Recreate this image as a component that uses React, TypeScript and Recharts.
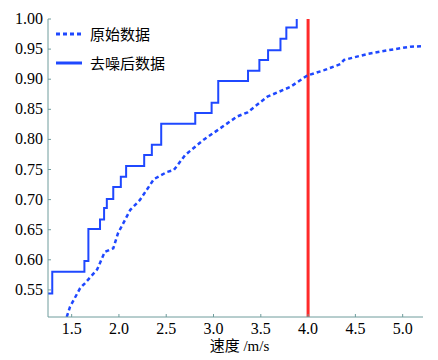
import { LineChart, Line, XAxis, YAxis, ReferenceLine } from 'recharts'

// 原始数据 (raw)
const rawSpeed = [1.448, 1.483, 1.59, 1.64, 1.77, 1.85, 1.94, 1.99, 2.12, 2.22, 2.37, 2.51, 2.58, 2.7, 2.83, 2.9, 3.04, 3.25, 3.36, 3.57, 3.81, 3.99, 4.17, 4.34, 4.38, 4.63, 4.84, 5.08, 5.22]
const rawProb = [0.505, 0.522, 0.553, 0.561, 0.584, 0.613, 0.619, 0.644, 0.683, 0.699, 0.734, 0.746, 0.749, 0.774, 0.791, 0.8, 0.815, 0.838, 0.845, 0.871, 0.887, 0.906, 0.915, 0.925, 0.932, 0.942, 0.948, 0.954, 0.955]

// 去噪后数据 (denoised), step curve
const cleanSpeed = [1.25, 1.295, 1.635, 1.677, 1.8, 1.843, 1.872, 1.94, 2.02, 2.076, 2.267, 2.348, 2.447, 2.807, 2.98, 3.05, 3.365, 3.485, 3.577, 3.708, 3.77, 3.88]
const cleanProb = [0.544, 0.58, 0.598, 0.651, 0.667, 0.686, 0.701, 0.721, 0.738, 0.756, 0.774, 0.791, 0.826, 0.844, 0.861, 0.897, 0.914, 0.932, 0.948, 0.967, 0.986, 1.0]

const xTicks = [1.5, 2.0, 2.5, 3.0, 3.5, 4.0, 4.5, 5.0]
const yTicks = [0.55, 0.6, 0.65, 0.7, 0.75, 0.8, 0.85, 0.9, 0.95, 1.0]
const threshold = 4.0

const rawData = rawSpeed.map((x, i) => ({ x, y: rawProb[i] }))
const cleanData = cleanSpeed.map((x, i) => ({ x, y: cleanProb[i] }))

const BLUE = '#1f48ff'
const AXIS = '#6f9c9c'
const SERIF = 'Liberation Serif, DejaVu Serif, serif'
const CJK = 'Liberation Serif, Noto Sans CJK SC, serif'

function XTick({ x, y, payload }: any) {
  return (
    <text x={x} y={y} dy={11} textAnchor="middle" style={{ fontFamily: SERIF, fontSize: 16, fill: '#000' }}>
      {payload.value.toFixed(1)}
    </text>
  )
}

function YTick({ x, y, payload }: any) {
  return (
    <text x={x} y={y} dy={5} textAnchor="end" style={{ fontFamily: SERIF, fontSize: 16, fill: '#000' }}>
      {payload.value.toFixed(2)}
    </text>
  )
}

function LegendBox() {
  const items = [
    { label: '原始数据', dash: '4 3' },
    { label: '去噪后数据', dash: undefined },
  ]
  return (
    <div style={{ position: 'absolute', left: 56, top: 19, fontFamily: CJK, fontSize: 15, color: '#000' }}>
      {items.map((it) => (
        <div key={it.label} style={{ display: 'flex', alignItems: 'center', height: 29 }}>
          <svg width={30} height={10} style={{ marginRight: 4 }}>
            <line x1={0} y1={5} x2={26} y2={5} stroke={BLUE} strokeWidth={3} strokeDasharray={it.dash} />
          </svg>
          <span>{it.label}</span>
        </div>
      ))}
    </div>
  )
}

export default function App() {
  return (
    <div style={{ position: 'absolute', left: 0, top: 0, width: 438, height: 360, background: '#fff' }}>
      <LineChart width={438} height={360} data={rawData} margin={{ top: 19, right: 15, bottom: 0, left: 0 }}>
        <XAxis
          type="number"
          dataKey="x"
          domain={[1.25, 5.215]}
          ticks={xTicks}
          allowDataOverflow
          height={43}
          stroke={AXIS}
          tickSize={-3}
          tickMargin={9}
          tick={<XTick />}
          label={{ value: '速度 /m/s', position: 'insideBottom', offset: 9, fill: '#000', fontSize: 15, style: { fontFamily: CJK }, dx: 4 }}
        />
        <YAxis
          type="number"
          domain={[0.505, 1.0]}
          ticks={yTicks}
          allowDataOverflow
          width={48}
          stroke={AXIS}
          tickSize={-3}
          tickMargin={8}
          tick={<YTick />}
        />
        <ReferenceLine x={threshold} stroke="#ff2a2a" strokeWidth={3} ifOverflow="hidden" />
        <Line
          data={rawData}
          dataKey="y"
          type="linear"
          stroke={BLUE}
          strokeWidth={2.5}
          strokeDasharray="4 3"
          dot={false}
          isAnimationActive={false}
        />
        <Line
          data={cleanData}
          dataKey="y"
          type="stepAfter"
          stroke={BLUE}
          strokeWidth={2}
          dot={false}
          isAnimationActive={false}
        />
      </LineChart>
      <LegendBox />
    </div>
  )
}
